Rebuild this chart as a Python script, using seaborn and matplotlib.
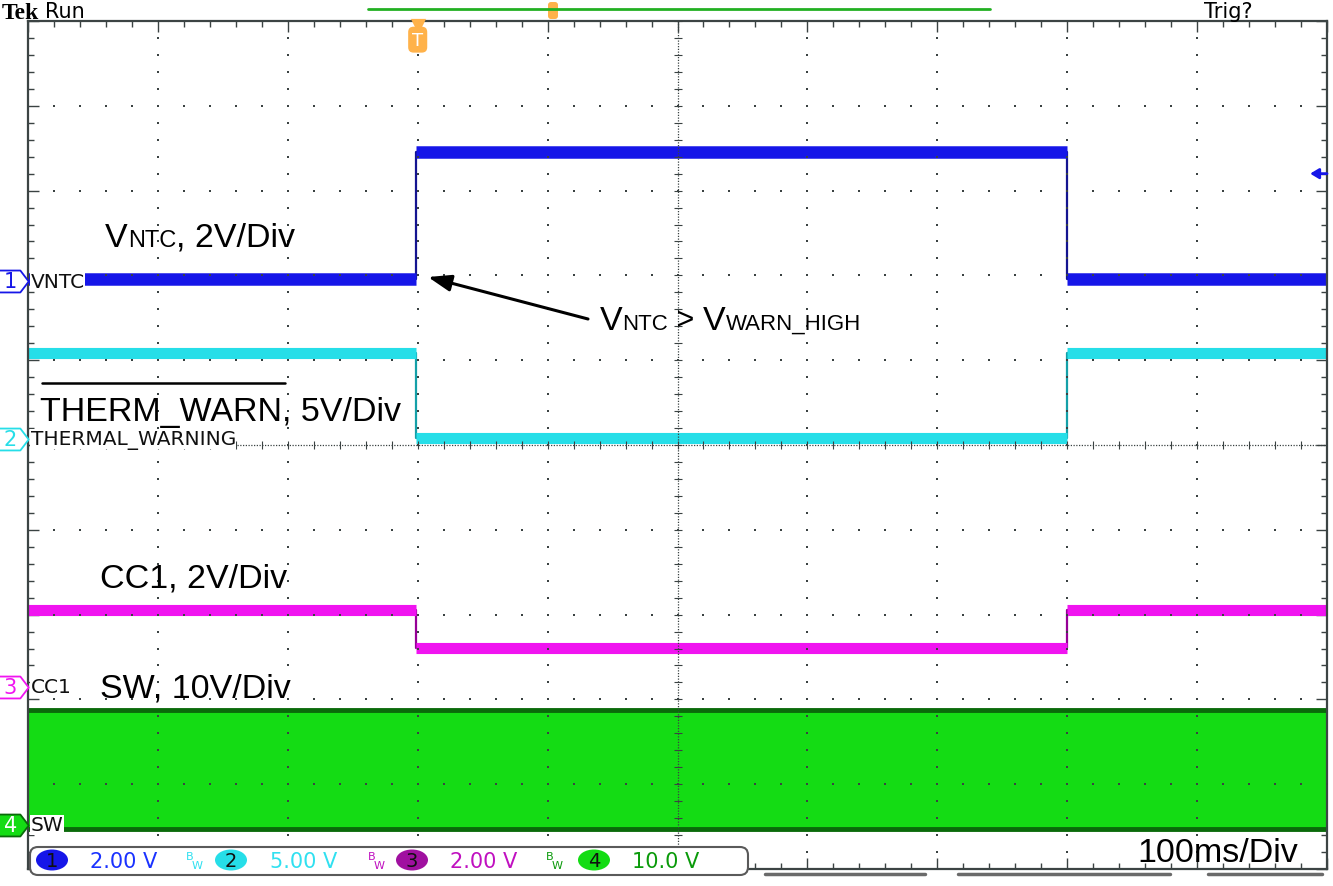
import numpy as np
import pandas as pd
import matplotlib
matplotlib.use("Agg")
import matplotlib.pyplot as plt
from matplotlib.path import Path
from matplotlib.patches import FancyBboxPatch, Ellipse
import seaborn as sns

# horizontal axis in divisions (100 ms/div), vertical axis in divisions
edge_times = [0.0, 2.985, 7.995, 10.0]
vntc_levels = [1.96, 3.46, 1.96]
warn_levels = [1.08, 0.08, 1.08]
cc1_levels = [-1.95, -2.39, -1.95]
sw_top = -3.12
sw_bottom = -4.53

ch_names = ["VNTC", "THERMAL_WARNING", "CC1", "SW"]
ch_refs = [1.93, 0.07, -2.85, -4.48]
ch_scales = ["2.00 V", "5.00 V", "2.00 V", "10.0 V"]
trig_pos = 3.0
trig_level = 3.2

ch_colors = ["#1616e8", "#26dee8", "#f014f0", "#14dc14"]
ch_dark = ["#141490", "#14a0a8", "#960096", "#0a6a0a"]
scale_colors = ["#1a32ff", "#30e0f0", "#c010c0", "#0a9a0a"]
band_width = [9, 8, 8]
grid_col = "#3a4242"

sns.set_style("white")
plt.rcParams["font.family"] = ["Liberation Sans", "DejaVu Sans"]
plt.rcParams["text.color"] = "black"

W, H = 1333, 887
fig = plt.figure(figsize=(W / 100, H / 100), dpi=100)
ax = fig.add_axes([28 / W, 17 / H, 1299 / W, 848 / H])
ax.set_xlim(0, 10)
ax.set_ylim(-5, 5)

# traces
df = pd.DataFrame({
    "t": edge_times * 3,
    "v": vntc_levels + [vntc_levels[-1]] + warn_levels + [warn_levels[-1]] + cc1_levels + [cc1_levels[-1]],
    "ch": ["1"] * 4 + ["2"] * 4 + ["3"] * 4,
})
sns.lineplot(data=df, x="t", y="v", hue="ch", palette={"1": ch_dark[0], "2": ch_dark[1], "3": ch_dark[2]},
             drawstyle="steps-post", estimator=None, sort=False, legend=False, lw=1.6, ax=ax, zorder=1)
for lv, c, bw in zip([vntc_levels, warn_levels, cc1_levels], ch_colors[:3], band_width):
    ax.hlines(lv, edge_times[:-1], edge_times[1:], color=c, lw=bw, zorder=2)
ax.fill_between([0, 10], sw_bottom, sw_top, color=ch_colors[3], lw=0, zorder=2)
ax.hlines([sw_top, sw_bottom], 0, 10, color=ch_dark[3], lw=3.5, zorder=2)
ax.set_xlabel("")
ax.set_ylabel("")

# graticule
minor = np.arange(-5, 5.001, 0.2)
minor_x = np.arange(0, 10.001, 0.2)
for gx in [1, 2, 3, 4, 6, 7, 8, 9]:
    ax.scatter(np.full(minor.size, gx), minor, s=2.5, marker="s", color=grid_col, lw=0, zorder=5)
for gy in [-4, -3, -2, -1, 1, 2, 3, 4]:
    ax.scatter(minor_x, np.full(minor_x.size, gy), s=2.5, marker="s", color=grid_col, lw=0, zorder=5)
ax.axvline(5, color=grid_col, lw=0.9, ls=(0, (1, 1.2)), zorder=5)
ax.axhline(0, color=grid_col, lw=0.9, ls=(0, (1, 1.2)), zorder=5)
ax.scatter(np.full(minor.size, 5), minor, s=30, marker="_", color=grid_col, lw=0.8, zorder=5)
ax.scatter(minor_x, np.full(minor_x.size, 0), s=30, marker="|", color=grid_col, lw=0.8, zorder=5)

ax.set_xticks(range(11))
ax.set_yticks(range(-5, 6))
ax.set_xticks(minor_x, minor=True)
ax.set_yticks(minor, minor=True)
ax.tick_params(which="both", direction="in", top=True, right=True, bottom=True, left=True,
               labelbottom=False, labelleft=False, color=grid_col, width=1)
ax.tick_params(which="major", length=8)
ax.tick_params(which="minor", length=4)
for s in ax.spines.values():
    s.set_color("#3c4444")
    s.set_linewidth(1.6)

# channel reference markers
pent = Path([(-1, -0.72), (0.45, -0.72), (1, 0), (0.45, 0.72), (-1, 0.72), (-1, -0.72)],
            [Path.MOVETO, Path.LINETO, Path.LINETO, Path.LINETO, Path.LINETO, Path.CLOSEPOLY])
for i, (name, ref) in enumerate(zip(ch_names, ch_refs)):
    face = ch_colors[3] if i == 3 else "white"
    ec = ch_dark[3] if i == 3 else ch_colors[i]
    ax.scatter([-0.115], [ref], marker=pent, s=480, facecolor=face, edgecolor=ec, lw=1.3,
               clip_on=False, zorder=10)
    ax.text(-0.135, ref, str(i + 1), color="white" if i == 3 else ch_colors[i], fontsize=15,
            family="DejaVu Sans", ha="center", va="center", clip_on=False, zorder=11)
    ax.text(0.02, ref, name, fontsize=14.5, family="DejaVu Sans", color="#101010", ha="left", va="center",
            bbox=dict(fc="white", ec="none", pad=0.5), zorder=9)

# trigger position marker and trigger level
xt = ax.get_xaxis_transform()
ax.scatter([trig_pos], [0.994], transform=xt, marker="v", s=120, color="#ffb24a", lw=0, clip_on=False, zorder=12)
ax.text(trig_pos, 0.978, "T", transform=xt, color="white", fontsize=13, family="DejaVu Sans", ha="center",
        va="center", bbox=dict(boxstyle="round,pad=0.22,rounding_size=0.3", fc="#ffb24a", ec="none"), zorder=12)
ax.annotate("", xy=(9.87, trig_level), xytext=(10.0, trig_level),
            arrowprops=dict(arrowstyle="-|>,head_length=0.5,head_width=0.3", color=ch_colors[0], lw=2,
                            shrinkA=0, shrinkB=0), zorder=12)

# overlay in pixel coordinates for screen chrome and annotations
ov = fig.add_axes([0, 0, 1, 1], facecolor="none")
ov.set_xlim(0, W)
ov.set_ylim(H, 0)
ov.axis("off")

ov.text(2, 19, "Tek", family="Liberation Serif", weight="bold", fontsize=17, va="baseline")
ov.text(45, 18, "Run", family="DejaVu Sans", fontsize=15, va="baseline")
ov.text(1204, 18, "Trig?", family="DejaVu Sans", fontsize=15, va="baseline")
ov.plot([368, 990], [10, 10], color="#22b022", lw=2)
ov.add_patch(FancyBboxPatch((548, 3), 10, 17, boxstyle="round,pad=0,rounding_size=3", fc="#ffb24a", ec="none"))


def rich(x, y, parts):
    prev = ov.text(x, y, parts[0][0], fontsize=parts[0][1], va="baseline", ha="left", zorder=8)
    pfs = parts[0][1]
    for s, fs in parts[1:]:
        prev = ov.annotate(s, xy=(1, 0), xycoords=prev, xytext=(0, 0.21 * (pfs - fs)),
                           textcoords="offset points", va="bottom", ha="left", fontsize=fs, zorder=8)
        pfs = fs
    return prev


rich(105, 247, [("V", 24.5), ("NTC", 17), (", 2V/Div", 24.5)])
ov.text(40, 421, "THERM_WARN, 5V/Div", fontsize=24.5, va="baseline")
ov.plot([42, 285], [384, 384], color="black", lw=1.8)
ov.text(100, 588, "CC1, 2V/Div", fontsize=24.5, va="baseline")
ov.text(100, 698, "SW, 10V/Div", fontsize=24.5, va="baseline")
ov.text(1137, 862, "100ms/Div", fontsize=24.5, va="baseline")
rich(600, 330, [("V", 24.5), ("NTC", 16), (" > ", 22), ("V", 24.5), ("WARN_HIGH", 16)])
ov.annotate("", xy=(428, 278), xytext=(588, 320),
            arrowprops=dict(arrowstyle="-|>,head_length=1.4,head_width=0.5", color="black", lw=2.2,
                            shrinkA=0, shrinkB=0))

# status bar
ov.add_patch(FancyBboxPatch((30, 848), 718, 28, boxstyle="round,pad=0,rounding_size=8",
                            fc="white", ec="#5a5a5a", lw=1.5, zorder=6))
for cx, tx, bwx, num, lab, c, tc in zip([52, 231, 412, 594], [90, 270, 450, 632], [186, 368, 546, None],
                                        ["1", "2", "3", "4"], ch_scales, ch_colors, scale_colors):
    ov.add_patch(Ellipse((cx, 861), 32, 21, fc=c if num != "3" else "#a010a0", ec="none", zorder=7))
    ov.text(cx, 862, num, fontsize=14, family="DejaVu Sans", color="#101010", ha="center", va="center", zorder=8)
    ov.text(tx, 862, lab, fontsize=15, family="DejaVu Sans", color=tc, ha="left", va="center", zorder=8)
    if bwx is not None:
        ov.text(bwx, 857, "B", fontsize=8, family="DejaVu Sans", color=scale_colors[int(num)], ha="left",
                va="center", zorder=8)
        ov.text(bwx + 6, 866, "W", fontsize=8, family="DejaVu Sans", color=scale_colors[int(num)], ha="left",
                va="center", zorder=8)
for x0, x1 in [(765, 925), (958, 1170), (1208, 1322)]:
    ov.plot([x0, x1], [875, 875], color="#6a6a6a", lw=2.5, solid_capstyle="round")

fig.savefig("out.png", dpi=100)
